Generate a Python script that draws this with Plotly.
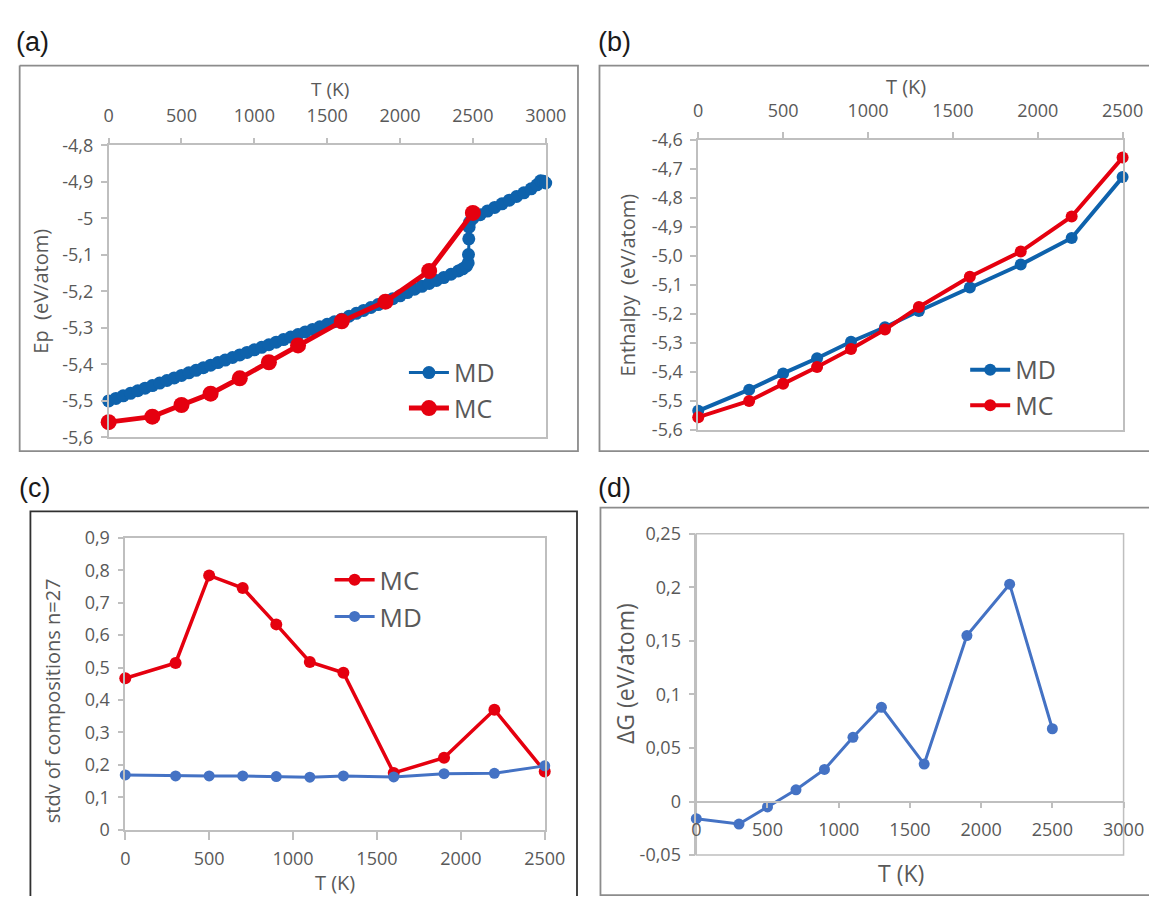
import plotly.graph_objects as go

W, H = 1170, 907

# ---------------- data ----------------
# (a) potential energy vs T
a_md_T = [0, 50, 100, 150, 200, 250, 300, 350, 400, 450, 500, 550, 600, 650, 700, 750,
          800, 850, 900, 950, 1000, 1050, 1100, 1150, 1200, 1250, 1300, 1350, 1400, 1450,
          1500, 1550, 1600, 1650, 1700, 1750, 1800, 1850, 1900, 1950, 2000, 2050, 2100,
          2150, 2200, 2250, 2300, 2350, 2400, 2430, 2455, 2468, 2470, 2472, 2474, 2478,
          2500, 2550, 2600, 2650, 2700, 2750, 2800, 2850, 2900, 2940, 2965, 2985, 3000]
a_md_Ep = [-5.500, -5.493, -5.486, -5.479, -5.472, -5.465, -5.458, -5.451, -5.444, -5.437,
           -5.430, -5.423, -5.416, -5.409, -5.402, -5.395, -5.388, -5.381, -5.374, -5.367,
           -5.360, -5.353, -5.346, -5.339, -5.332, -5.325, -5.318, -5.311, -5.304, -5.297,
           -5.290, -5.283, -5.276, -5.268, -5.260, -5.252, -5.244, -5.236, -5.228, -5.220,
           -5.212, -5.203, -5.194, -5.186, -5.178, -5.170, -5.162, -5.153, -5.144, -5.138,
           -5.131, -5.122, -5.099, -5.056, -5.024, -5.010, -5.000, -4.990, -4.980, -4.970,
           -4.960, -4.950, -4.940, -4.930, -4.919, -4.908, -4.897, -4.898, -4.903]
a_mc_T = [0, 300, 500, 700, 900, 1100, 1300, 1600, 1900, 2200, 2500]
a_mc_Ep = [-5.558, -5.543, -5.511, -5.480, -5.438, -5.394, -5.348, -5.282, -5.228, -5.144, -4.985]
a_xticks = [0, 500, 1000, 1500, 2000, 2500, 3000]
a_yticks = [-5.6, -5.5, -5.4, -5.3, -5.2, -5.1, -5.0, -4.9, -4.8]
a_yticktext = ["-5,6", "-5,5", "-5,4", "-5,3", "-5,2", "-5,1", "-5", "-4,9", "-4,8"]

# (b) enthalpy vs T
b_T = [0, 300, 500, 700, 900, 1100, 1300, 1600, 1900, 2200, 2500]
b_md = [-5.535, -5.462, -5.406, -5.354, -5.297, -5.247, -5.191, -5.110, -5.031, -4.939, -4.729]
b_mc = [-5.557, -5.501, -5.442, -5.384, -5.322, -5.255, -5.177, -5.073, -4.986, -4.865, -4.662]
b_xticks = [0, 500, 1000, 1500, 2000, 2500]
b_yticks = [-5.6, -5.5, -5.4, -5.3, -5.2, -5.1, -5.0, -4.9, -4.8, -4.7, -4.6]
b_yticktext = ["-5,6", "-5,5", "-5,4", "-5,3", "-5,2", "-5,1", "-5,0", "-4,9", "-4,8", "-4,7", "-4,6"]

# (c) stdv of compositions
c_T = [0, 300, 500, 700, 900, 1100, 1300, 1600, 1900, 2200, 2500]
c_mc = [0.467, 0.514, 0.784, 0.745, 0.633, 0.517, 0.484, 0.175, 0.222, 0.370, 0.180]
c_md = [0.169, 0.166, 0.166, 0.166, 0.164, 0.162, 0.166, 0.163, 0.173, 0.174, 0.197]
c_xticks = [0, 500, 1000, 1500, 2000, 2500]
c_yticks = [0, 0.1, 0.2, 0.3, 0.4, 0.5, 0.6, 0.7, 0.8, 0.9]
c_yticktext = ["0", "0,1", "0,2", "0,3", "0,4", "0,5", "0,6", "0,7", "0,8", "0,9"]

# (d) delta G
d_T = [0, 300, 500, 700, 900, 1100, 1300, 1600, 1900, 2200, 2500]
d_dG = [-0.016, -0.021, -0.005, 0.011, 0.030, 0.060, 0.088, 0.035, 0.155, 0.203, 0.068]
d_xticks = [0, 500, 1000, 1500, 2000, 2500, 3000]
d_yticks = [-0.05, 0, 0.05, 0.1, 0.15, 0.2, 0.25]
d_yticktext = ["-0,05", "0", "0,05", "0,1", "0,15", "0,2", "0,25"]

# ---------------- style ----------------
BLUE_A = "#0E62AC"
RED = "#E5000F"
BLUE_C = "#4472C4"
TXT = "#595959"
AXC = "#BFBFBF"
FONT = "Open Sans"


def px(x):
    return x / W


def py(y):
    return 1 - y / H


fig = go.Figure()

# (a)
fig.add_trace(go.Scatter(x=a_md_T, y=a_md_Ep, name="MD", mode="lines+markers",
                         line=dict(color=BLUE_A, width=3), marker=dict(color=BLUE_A, size=13),
                         xaxis="x", yaxis="y", legend="legend", cliponaxis=False))
fig.add_trace(go.Scatter(x=a_mc_T, y=a_mc_Ep, name="MC", mode="lines+markers",
                         line=dict(color=RED, width=5), marker=dict(color=RED, size=16),
                         xaxis="x", yaxis="y", legend="legend", cliponaxis=False))
# (b)
fig.add_trace(go.Scatter(x=b_T, y=b_md, name="MD", mode="lines+markers",
                         line=dict(color=BLUE_A, width=4), marker=dict(color=BLUE_A, size=12),
                         xaxis="x2", yaxis="y2", legend="legend2", cliponaxis=False))
fig.add_trace(go.Scatter(x=b_T, y=b_mc, name="MC", mode="lines+markers",
                         line=dict(color=RED, width=4), marker=dict(color=RED, size=12),
                         xaxis="x2", yaxis="y2", legend="legend2", cliponaxis=False))
# (c)
fig.add_trace(go.Scatter(x=c_T, y=c_mc, name="MC", mode="lines+markers",
                         line=dict(color=RED, width=3.5), marker=dict(color=RED, size=12),
                         xaxis="x3", yaxis="y3", legend="legend3", cliponaxis=False))
fig.add_trace(go.Scatter(x=c_T, y=c_md, name="MD", mode="lines+markers",
                         line=dict(color=BLUE_C, width=3), marker=dict(color=BLUE_C, size=11),
                         xaxis="x3", yaxis="y3", legend="legend3", cliponaxis=False))
# (d)
fig.add_trace(go.Scatter(x=d_T, y=d_dG, name="ΔG", mode="lines+markers",
                         line=dict(color=BLUE_C, width=3), marker=dict(color=BLUE_C, size=11),
                         xaxis="x4", yaxis="y4", showlegend=False, cliponaxis=False))

tickfont = dict(family=FONT, size=18, color=TXT)


def xax(domain, rng, vals, **kw):
    d = dict(domain=domain, range=rng, tickvals=vals, ticks="outside", ticklen=6,
             tickcolor=AXC, tickwidth=1.5, showline=True, linecolor=AXC, linewidth=1.5,
             showgrid=False, zeroline=False, tickfont=tickfont, fixedrange=True)
    d.update(kw)
    return d


def yax(domain, rng, vals, text, **kw):
    d = dict(domain=domain, range=rng, tickvals=vals, ticktext=text, ticks="outside",
             ticklen=6, tickcolor=AXC, tickwidth=1.5, showline=True, linecolor=AXC,
             linewidth=1.5, showgrid=False, zeroline=False, tickfont=tickfont,
             fixedrange=True, ticklabelstandoff=4)
    d.update(kw)
    return d


layout = dict(
    width=W, height=H, autosize=False, margin=dict(l=0, r=0, t=0, b=0),
    paper_bgcolor="white", plot_bgcolor="white", separators=",.",
    font=dict(family=FONT, color=TXT),
    xaxis=xax([px(106), px(553)], [0, 3000], a_xticks, side="top", anchor="y", mirror=True,
              ticklabelstandoff=8),
    yaxis=yax([py(436), py(136)], [-5.6, -4.8], a_yticks, a_yticktext, anchor="x", mirror=True),
    xaxis2=xax([px(709), px(1143)], [0, 2500], b_xticks, side="top", anchor="y2", mirror=True,
               ticklabelstandoff=8),
    yaxis2=yax([py(428), py(130)], [-5.6, -4.6], b_yticks, b_yticktext, anchor="x2", mirror=True),
    xaxis3=xax([px(123), px(552)], [0, 2500], c_xticks, side="bottom", anchor="y3", mirror=True,
               ticklen=8, ticklabelstandoff=4),
    yaxis3=yax([py(839), py(539)], [0, 0.9], c_yticks, c_yticktext, anchor="x3", mirror=True),
    xaxis4=xax([px(707), px(1144)], [0, 3000], d_xticks, side="bottom", anchor="free",
               position=py(810), ticklabelstandoff=6),
    yaxis4=yax([py(865), py(535)], [-0.05, 0.25], d_yticks, d_yticktext, anchor="x4"),
    legend=dict(x=px(408), y=py(346), xanchor="left", yanchor="top",
                font=dict(family=FONT, size=25, color=TXT), bgcolor="rgba(0,0,0,0)",
                tracegroupgap=0, itemwidth=40),
    legend2=dict(x=px(982), y=py(343), xanchor="left", yanchor="top",
                 font=dict(family=FONT, size=25, color=TXT), bgcolor="rgba(0,0,0,0)",
                 tracegroupgap=0, itemwidth=40),
    legend3=dict(x=px(332), y=py(558), xanchor="left", yanchor="top",
                 font=dict(family=FONT, size=26, color=TXT), bgcolor="rgba(0,0,0,0)",
                 tracegroupgap=0, itemwidth=40),
)
fig.update_layout(**layout)


def frame_path(pts):
    return "M " + " L ".join(f"{px(x):.5f},{py(y):.5f}" for x, y in pts)


# panel frames, kept inside the page (open where they run off the edge)
frames = [
    ([(15, 54), (586, 54), (586, 450), (15, 450), (15, 54)], "#8C8C8C"),
    ([(1170, 54), (608, 54), (608, 450), (1170, 450)], "#8C8C8C"),
    ([(26, 907), (26, 512), (585, 512), (585, 907)], "#303030"),
    ([(1170, 508), (609, 508), (609, 906), (1170, 906)], "#8C8C8C"),
]
for pts, col in frames:
    fig.add_shape(type="path", xref="paper", yref="paper", path=frame_path(pts),
                  line=dict(color=col, width=1.8), layer="below")

# plot box of (d)
fig.add_shape(type="rect", xref="x4 domain", yref="y4 domain", x0=0, x1=1, y0=0, y1=1,
              line=dict(color=AXC, width=1.5), layer="below")

# panel labels
for lab, (x, y) in [("(a)", (28, 30)), ("(b)", (623, 30)), ("(c)", (30, 488)), ("(d)", (623, 488))]:
    fig.add_annotation(text=lab, x=px(x), y=py(y), xref="paper", yref="paper", showarrow=False,
                       font=dict(family="Liberation Sans", size=27, color="#1A1A1A"),
                       xanchor="center", yanchor="middle")

# axis titles
titles = [("T (K)", 332, 78, 0, 19), ("T (K)", 921, 76, 0, 20), ("T (K)", 337, 893, 0, 20),
          ("T (K)", 916, 883, 0, 23),
          ("Ep  (eV/atom)", 36, 286, -90, 20), ("Enthalpy  (eV/atom)", 637, 279, -90, 20),
          ("stdv of compositions n=27", 48, 706, -90, 20), ("ΔG (eV/atom)", 634, 678, -90, 23)]
for t, x, y, ang, sz in titles:
    fig.add_annotation(text=t, x=px(x), y=py(y), xref="paper", yref="paper", showarrow=False,
                       textangle=ang, font=dict(family=FONT, size=sz, color=TXT),
                       xanchor="center", yanchor="middle")

fig.write_html("out.html", config={"displayModeBar": False},
               post_script="document.body.style.margin='0px';document.body.style.overflow='hidden';")
